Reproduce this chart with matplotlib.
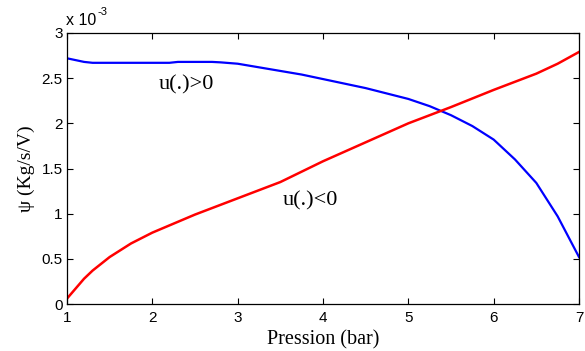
import matplotlib
matplotlib.use("Agg")
import matplotlib.pyplot as plt

# Data (psi values in units of 1e-3 Kg/s/V)
p_pos = [1.0, 1.1, 1.2, 1.3, 1.5, 1.75, 2.0, 2.2, 2.3, 2.5, 2.7, 2.8, 3.0, 3.25, 3.5, 3.75,
         4.0, 4.25, 4.5, 4.75, 5.0, 5.25, 5.5, 5.75, 6.0, 6.25, 6.5, 6.75, 7.0]
psi_pos = [2.72, 2.70, 2.68, 2.67, 2.67, 2.67, 2.67, 2.67, 2.68, 2.68, 2.68, 2.675, 2.66, 2.62,
           2.58, 2.54, 2.49, 2.44, 2.39, 2.33, 2.27, 2.19, 2.09, 1.97, 1.82, 1.60, 1.34, 0.97, 0.52]

p_neg = [1.0, 1.1, 1.2, 1.3, 1.5, 1.75, 2.0, 2.25, 2.5, 2.75, 3.0, 3.5, 4.0, 4.5, 5.0,
         5.5, 6.0, 6.5, 6.75, 7.0]
psi_neg = [0.06, 0.17, 0.28, 0.37, 0.52, 0.67, 0.79, 0.89, 0.99, 1.08, 1.17, 1.35, 1.58, 1.79,
           2.00, 2.18, 2.37, 2.55, 2.66, 2.79]

xticks = [1, 2, 3, 4, 5, 6, 7]
yticks = [0, 0.5, 1, 1.5, 2, 2.5, 3]
ytick_labels = ["0", "0.5", "1", "1.5", "2", "2.5", "3"]

serif = ["Liberation Serif", "DejaVu Serif"]
sans = ["Liberation Sans", "DejaVu Sans"]

fig = plt.figure(figsize=(5.85, 3.51), dpi=100)
ax = fig.add_axes([67 / 585, 1 - 304 / 351, (579 - 67) / 585, (304 - 33) / 351])

ax.plot(p_pos, psi_pos, color="#0000ff", lw=1.6)
ax.plot(p_neg, psi_neg, color="#ff0000", lw=1.8)

ax.set_xlim(1, 7)
ax.set_ylim(0, 3)
ax.set_xticks(xticks)
ax.set_xticklabels([str(t) for t in xticks], fontfamily=sans, fontsize=11)
ax.set_yticks(yticks)
ax.set_yticklabels(ytick_labels, fontfamily=sans, fontsize=11)
ax.tick_params(direction="in", top=True, right=True, length=4, width=0.8, pad=3)
ax.tick_params(axis="x", pad=5)
for s in ax.spines.values():
    s.set_linewidth(0.9)

ax.set_xlabel("Pression (bar)", fontfamily=serif, fontsize=14.5, labelpad=4)
ax.set_ylabel("ψ (Kg/s/V)", fontfamily=serif, fontsize=14, labelpad=5)

ax.text(2.395, 2.425, "u(.)>0", fontfamily=serif, fontsize=16, ha="center", va="center")
ax.text(3.855, 1.14, "u(.)<0", fontfamily=serif, fontsize=16, ha="center", va="center")

ax.text(-0.002, 1.02, "x 10", transform=ax.transAxes, fontfamily=sans, fontsize=11.5,
        ha="left", va="bottom")
ax.text(0.060, 1.06, "-3", transform=ax.transAxes, fontfamily=sans, fontsize=8,
        ha="left", va="bottom")

fig.savefig("out.png", dpi=100)
